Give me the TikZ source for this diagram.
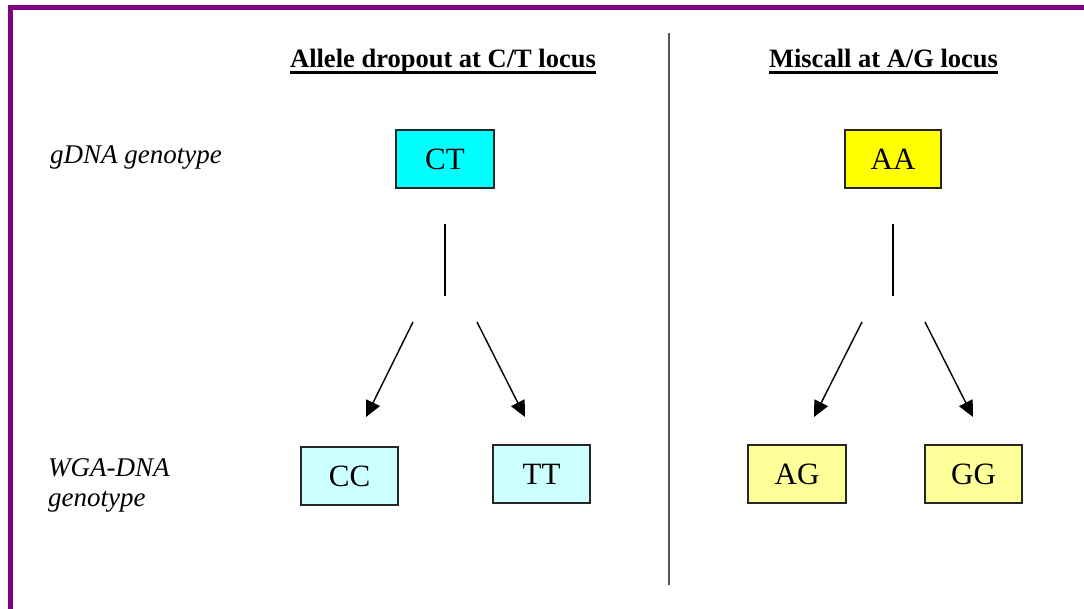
\documentclass[tikz,border=0pt]{standalone}
\usepackage{fontspec}
\setmainfont{Liberation Serif}
\usetikzlibrary{arrows.meta}

\definecolor{frame}{HTML}{800080}
\definecolor{cyanbox}{HTML}{00FFFF}
\definecolor{lightcyan}{HTML}{CCFFFF}
\definecolor{yellowbox}{HTML}{FFFF00}
\definecolor{lightyellow}{HTML}{FFFF99}
\definecolor{divider}{HTML}{555555}

% bold heading with a heavy underline
\newcommand\headline[1]{\setbox0\hbox{\bfseries #1}\rlap{\rule[-6pt]{\wd0}{2.8pt}}\box0}

\tikzset{
  geno/.style={draw=black!85, line width=1.6pt, minimum width=97pt, minimum height=58pt,
    inner sep=0pt, font=\fontsize{31}{34}\selectfont},
  heading/.style={anchor=base, inner sep=0pt, font=\fontsize{26.5}{30}\selectfont},
  rowlabel/.style={anchor=base west, inner sep=0pt, font=\fontsize{27}{30}\itshape},
  stem/.style={line width=1.4pt},
  branch/.style={line width=1.4pt, -{Triangle[length=16pt,width=15pt]}},
}

\begin{document}
\begin{tikzpicture}[x=1pt, y=-1pt]
  \useasboundingbox (0,0) rectangle (1084,609);
  \fill[white] (0,0) rectangle (1084,609);

  % purple frame, top and left edges
  \fill[frame] (8,5) rectangle (1084,10);
  \fill[frame] (8,5) rectangle (13,609);

  % divider between the two panels
  \draw[divider, line width=1.5pt] (669,33) -- (669,585);

  % headings
  \node[heading] (h1) at (443,68) {\headline{Allele dropout at C/T locus}};
  \node[heading] (h2) at (883.5,68) {\headline{Miscall at A/G locus}};

  % row labels
  \node[rowlabel] (lg) at (50,164) {gDNA genotype};
  \node[rowlabel] (lw1) at (48,476) {WGA-DNA};
  \node[rowlabel] (lw2) at (48,506) {genotype};

  % genotype boxes
  \node[geno, fill=cyanbox, minimum width=98pt] (ct) at (445,159) {CT};
  \node[geno, fill=lightcyan] (cc) at (349.5,476) {CC};
  \node[geno, fill=lightcyan] (tt) at (541.5,474) {TT};
  \node[geno, fill=yellowbox, minimum width=96pt] (aa) at (893,159) {AA};
  \node[geno, fill=lightyellow, minimum width=98pt] (ag) at (797,474) {AG};
  \node[geno, fill=lightyellow] (gg) at (973.5,474) {GG};

  % stem and branch end points, left panel
  \coordinate (ct-s1) at (445,224);
  \coordinate (ct-s2) at (445,296);
  \coordinate (ct-l0) at (413,322);
  \coordinate (ct-l1) at (366,417);
  \coordinate (ct-r0) at (477,322);
  \coordinate (ct-r1) at (525,417);

  % stem and branch end points, right panel
  \coordinate (aa-s1) at (893,224);
  \coordinate (aa-s2) at (893,296);
  \coordinate (aa-l0) at (862,322);
  \coordinate (aa-l1) at (814,417);
  \coordinate (aa-r0) at (925,322);
  \coordinate (aa-r1) at (973,417);

  \draw[stem] (ct-s1) -- (ct-s2);
  \draw[branch] (ct-l0) -- (ct-l1);
  \draw[branch] (ct-r0) -- (ct-r1);

  \draw[stem] (aa-s1) -- (aa-s2);
  \draw[branch] (aa-l0) -- (aa-l1);
  \draw[branch] (aa-r0) -- (aa-r1);
\end{tikzpicture}
\end{document}
